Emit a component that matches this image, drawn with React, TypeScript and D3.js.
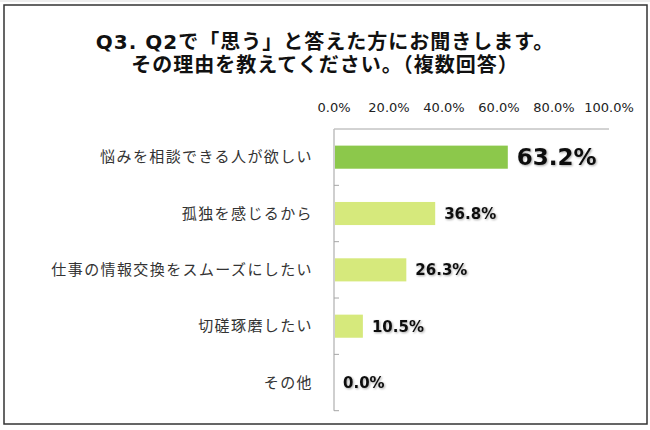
import React, { useRef, useEffect } from 'react'
import * as d3 from 'd3'

const titleLines = ['Q3. Q2で「思う」と答えた方にお聞きします。', 'その理由を教えてください。（複数回答）']
const categories = ['悩みを相談できる人が欲しい', '孤独を感じるから', '仕事の情報交換をスムーズにしたい', '切磋琢磨したい', 'その他']
const values = [63.2, 36.8, 26.3, 10.5, 0.0]
const tickValues = [0, 20, 40, 60, 80, 100]

const JP = "'Noto Sans CJK JP', 'DejaVu Sans', sans-serif"
const NUM = "'DejaVu Sans', 'Noto Sans CJK JP', sans-serif"

export default function App() {
  const ref = useRef<SVGSVGElement | null>(null)

  useEffect(() => {
    const width = 650
    const height = 430
    const svg = d3.select(ref.current)
    svg.selectAll('*').remove()

    const defs = svg.append('defs')
    const shadow = defs.append('filter').attr('id', 'txtShadow')
      .attr('x', '-10%').attr('y', '-20%').attr('width', '130%').attr('height', '150%')
    shadow.append('feDropShadow')
      .attr('dx', 1).attr('dy', 1).attr('stdDeviation', 0.8)
      .attr('flood-color', '#000').attr('flood-opacity', 0.35)

    svg.append('rect').attr('width', width).attr('height', height).attr('fill', '#fff')

    // faint edge above the frame
    svg.append('line')
      .attr('x1', 0).attr('x2', width).attr('y1', 1).attr('y2', 1)
      .attr('stroke', '#ddd').attr('stroke-width', 1)

    // frame
    svg.append('rect')
      .attr('x', 4).attr('y', 5).attr('width', 643).attr('height', 419)
      .attr('fill', 'none').attr('stroke', '#333').attr('stroke-width', 1.5)

    // title
    svg.append('g').selectAll('text')
      .data(titleLines)
      .enter()
      .append('text')
      .attr('x', 325)
      .attr('y', (d, i) => 49 + i * 23)
      .attr('text-anchor', 'middle')
      .attr('font-family', NUM)
      .attr('font-weight', 'bold')
      .attr('font-size', 20)
      .attr('letter-spacing', 1)
      .attr('fill', '#111')
      .text(d => d)

    const x = d3.scaleLinear().domain([0, 100]).range([334, 609])
    const y = d3.scaleBand<string>()
      .domain(categories)
      .range([129, 410.7])
      .paddingInner(0.59)
      .paddingOuter(0.295)

    // top tick labels
    svg.append('g').selectAll('text')
      .data(tickValues)
      .enter()
      .append('text')
      .attr('x', d => x(d))
      .attr('y', 112)
      .attr('text-anchor', 'middle')
      .attr('font-family', NUM)
      .attr('font-size', 13)
      .attr('fill', '#222')
      .text(d => d.toFixed(1) + '%')

    // axis lines
    svg.append('line')
      .attr('x1', x(0)).attr('x2', x(100)).attr('y1', 129).attr('y2', 129)
      .attr('stroke', '#a6a6a6').attr('stroke-width', 1)
    svg.append('line')
      .attr('x1', x(0)).attr('x2', x(0)).attr('y1', 129).attr('y2', 410.7)
      .attr('stroke', '#bfbfbf').attr('stroke-width', 1.5)

    const step = y.step()
    const bounds = d3.range(categories.length + 1).map(k => y.range()[0] + k * step)
    svg.append('g').selectAll('line')
      .data(bounds.slice(1))
      .enter()
      .append('line')
      .attr('x1', x(0)).attr('x2', x(0) + 5)
      .attr('y1', d => d).attr('y2', d => d)
      .attr('stroke', '#a6a6a6').attr('stroke-width', 1)

    // bars
    svg.append('g').selectAll('rect')
      .data(values)
      .enter()
      .append('rect')
      .attr('x', x(0) + 1)
      .attr('y', (d, i) => y(categories[i]) as number)
      .attr('width', d => Math.max(0, x(d) - x(0) - 1))
      .attr('height', y.bandwidth())
      .attr('fill', (d, i) => i === 0 ? '#8cc84b' : '#d6e97c')

    // category labels
    svg.append('g').selectAll('text')
      .data(categories)
      .enter()
      .append('text')
      .attr('x', 313)
      .attr('y', d => (y(d) as number) + y.bandwidth() / 2)
      .attr('dy', '0.35em')
      .attr('text-anchor', 'end')
      .attr('font-family', JP)
      .attr('font-size', 15)
      .attr('letter-spacing', 1.4)
      .attr('fill', '#333')
      .text(d => d)

    // value labels
    svg.append('g').selectAll('text')
      .data(values)
      .enter()
      .append('text')
      .attr('x', d => x(d) + 9)
      .attr('y', (d, i) => (y(categories[i]) as number) + y.bandwidth() / 2)
      .attr('dy', '0.36em')
      .attr('font-family', NUM)
      .attr('font-weight', 'bold')
      .attr('font-size', (d, i) => i === 0 ? 23 : 15)
      .attr('fill', '#111')
      .attr('filter', 'url(#txtShadow)')
      .text(d => d.toFixed(1) + '%')
  }, [])

  return (
    <svg ref={ref} width={650} height={430}
      style={{ position: 'absolute', left: 0, top: 0, display: 'block' }} />
  )
}
